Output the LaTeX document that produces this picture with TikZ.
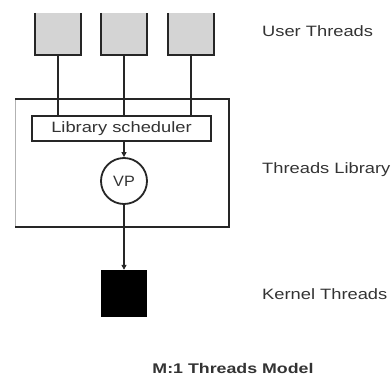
\documentclass[tikz,border=0pt]{standalone}
\usepackage{fontspec}
\setmainfont{Liberation Sans}
\usetikzlibrary{arrows.meta}
\begin{document}
\begin{tikzpicture}[x=1pt,y=-1pt,
  ln/.style={draw=black!85, line width=1.8pt},
  cup/.style={fill=black!17, draw=none, minimum width=46pt, minimum height=42pt, inner sep=0pt},
  lbl/.style={anchor=west, inner sep=0pt, text=black!80, font=\fontsize{15}{18}\selectfont},
  tip/.style={-{Triangle[length=5pt,width=5pt]}}]
\useasboundingbox (0,0) rectangle (391,380);
% user threads
\node[cup] (u1) at (58,34) {};
\node[cup] (u2) at (124,34) {};
\node[cup] (u3) at (191,34) {};
\draw[ln, line width=2.2pt] (u1.north west) -- (u1.south west) -- (u1.south east) -- (u1.north east);
\draw[ln, line width=2.2pt] (u2.north west) -- (u2.south west) -- (u2.south east) -- (u2.north east);
\draw[ln, line width=2.2pt] (u3.north west) -- (u3.south west) -- (u3.south east) -- (u3.north east);
% outer library box
\coordinate (bl) at (15,227);
\coordinate (tl) at (15,99);
\coordinate (tr) at (229,99);
\coordinate (br) at (229,227);
\draw[draw=black!30, line width=0.6pt] (tl) -- (bl);
\draw[ln, line width=2pt] (tl) -- (tr) -- (br) -- (bl);
% scheduler
\node[ln, fill=white, minimum width=179pt, minimum height=25pt, inner sep=0pt,
  text=black!80, font=\fontsize{15}{18}\selectfont] (sch) at (121.5,128.5)
  {\scalebox{1.22}[1]{Library scheduler}};
\draw[ln] (u1.south) -- (u1.south |- sch.north);
\draw[ln] (u2.south) -- (u2.south |- sch.north);
\draw[ln] (u3.south) -- (u3.south |- sch.north);
% VP
\node[ln, circle, minimum size=46pt, inner sep=0pt, fill=white,
  text=black!80, font=\fontsize{15}{18}\selectfont] (vp) at (124,181) {\scalebox{1.08}[1]{VP}};
\draw[ln, tip] (sch.south -| vp.north) -- (vp.north);
% kernel thread
\node[fill=black, draw=black, minimum width=45pt, minimum height=46pt, inner sep=0pt] (k) at (124,293) {};
\draw[ln, tip] (vp.south) -- (vp.south |- k.north);
% labels
\node[lbl] (l1) at (262,31) {\scalebox{1.22}[1]{User Threads}};
\node[lbl] (l2) at (262,170) {\scalebox{1.22}[1]{Threads Library}};
\node[lbl] (l3) at (262,294) {\scalebox{1.22}[1]{Kernel Threads}};
\node[inner sep=0pt, text=black!80, font=\bfseries\fontsize{14}{17}\selectfont] (title) at (233,368)
  {\scalebox{1.27}[1]{M:1 Threads Model}};
\end{tikzpicture}
\end{document}
